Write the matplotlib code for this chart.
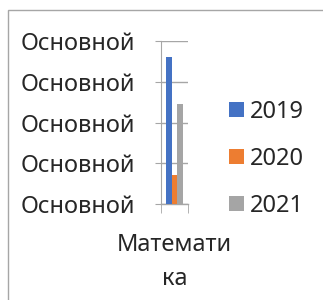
import matplotlib.pyplot as plt
from matplotlib.patches import Rectangle

plt.rcParams['font.family'] = ['Noto Sans', 'DejaVu Sans']

# data
category = 'Математи\nка'
series = ['2019', '2020', '2021']
values = [3.6, 0.71, 2.45]
colors = ['#4472c4', '#ed7d31', '#a5a5a5']
ytick_vals = [0, 1, 2, 3, 4]
ytick_labels = ['Основной'] * 5

W, H = 323, 300
fs = 17
fig = plt.figure(figsize=(W / 100, H / 100), dpi=100)

# outer chart border (runs off the right/bottom of the picture)
fig.patches.append(Rectangle((7.5 / W, -0.05), 1.2, 1 - 10 / H + 0.05,
                             transform=fig.transFigure, fill=False,
                             edgecolor='#a6a6a6', linewidth=1.0))

ax = fig.add_axes([161 / W, 1 - 204 / H, 27 / W, (204 - 41) / H])

bw = 0.21
offsets = [-bw, 0, bw]
for name, v, c, off in zip(series, values, colors, offsets):
    ax.bar(off, v, width=bw, color=c, label=name, zorder=3)

ax.set_xlim(-0.5, 0.5)
ax.set_ylim(0, 4)
ax.set_yticks(ytick_vals)
ax.set_yticklabels(ytick_labels)
ax.grid(axis='y', color='#a6a6a6', linewidth=1.0, zorder=0)

for s in ['top', 'right', 'bottom']:
    ax.spines[s].set_visible(False)
ax.spines['left'].set_color('#a6a6a6')
ax.spines['left'].set_zorder(1)

ax.tick_params(axis='y', length=4.3, color='#a6a6a6', pad=14,
               labelsize=fs, labelcolor='#262626')

ax.set_xticks([0])
ax.set_xticklabels([category], linespacing=1.55)
ax.set_xticks([-0.5, 0.5], minor=True)
ax.tick_params(axis='x', which='major', length=0, pad=21,
               labelsize=fs, labelcolor='#262626')
ax.tick_params(axis='x', which='minor', length=6.5, color='#a6a6a6')
ax.axhline(0, color='#a6a6a6', linewidth=1.0, zorder=2, clip_on=False)

ax.legend(loc='center left', bbox_to_anchor=(229 / W, 1 - 159 / H),
          bbox_transform=fig.transFigure, frameon=False, fontsize=fs,
          borderpad=0, borderaxespad=0,
          handlelength=0.62, handleheight=0.62, handletextpad=0.25,
          labelspacing=0.97, labelcolor='#262626')

fig.savefig('out.png', dpi=100)
